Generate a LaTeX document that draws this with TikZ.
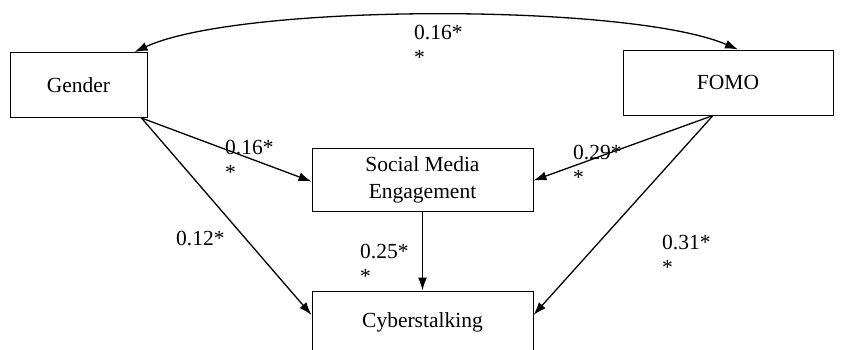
\documentclass[tikz,border=0pt]{standalone}
\usepackage{fontspec}
\setmainfont{Liberation Serif}
\usepackage{tikz}
\usetikzlibrary{arrows.meta}
\tikzstyle{var}=[draw, line width=1pt, inner sep=0pt, align=center, font=\fontsize{21.5}{27}\selectfont]
\tikzstyle{coef}=[anchor=north west, inner sep=0pt, align=left, font=\fontsize{21.5}{25}\selectfont]
\tikzstyle{arrow}=[draw=black, line width=1.3pt, >={Latex[length=13pt, width=9pt]}]

\begin{document}
\begin{tikzpicture}[x=1pt, y=-1pt]
		   \useasboundingbox (0,0) rectangle (846,349);
		   \begin{scope}
			   \node (gender) at (78.5, 85)[var, minimum width=137pt, minimum height=65pt] {Gender};
			   \node (fomo) at (728, 82.5)[var, minimum width=210pt, minimum height=65pt] {FOMO};
			   \node (sme) at (422.5, 179.5)[var, minimum width=221pt, minimum height=63pt] {Social Media\\Engagement};
			   \node (cyber) at (422.5, 322)[var, minimum width=221pt, minimum height=62pt] {Cyberstalking};
		   \end{scope}
		   \begin{scope}[arrow]
			   \draw [<->] ([xshift=56pt]gender.north) .. controls (240, 3) and (630, 3) .. ([xshift=10pt]fomo.north);
			   \path [->] ([xshift=-6pt]gender.south east) edge ([yshift=-2pt]sme.west);
			   \path [->] ([xshift=-6pt]gender.south east) edge ([yshift=7pt]cyber.west);
			   \path [->] (sme.south) edge (cyber.north);
			   \path [->] ([xshift=-15pt]fomo.south) edge ([yshift=-1pt]sme.east);
			   \path [->] ([xshift=-15pt]fomo.south) edge ([yshift=7pt]cyber.east);
		   \end{scope}
		   \begin{scope}
			   \node (c1) at (414, 25)[coef] {0.16*\\*};
			   \node (c2) at (225, 140)[coef] {0.16*\\*};
			   \node (c3) at (573, 145)[coef] {0.29*\\*};
			   \node (c4) at (176, 231)[coef] {0.12*};
			   \node (c5) at (360, 244)[coef] {0.25*\\*};
			   \node (c6) at (662, 235)[coef] {0.31*\\*};
		   \end{scope}
	   \end{tikzpicture}
\end{document}
